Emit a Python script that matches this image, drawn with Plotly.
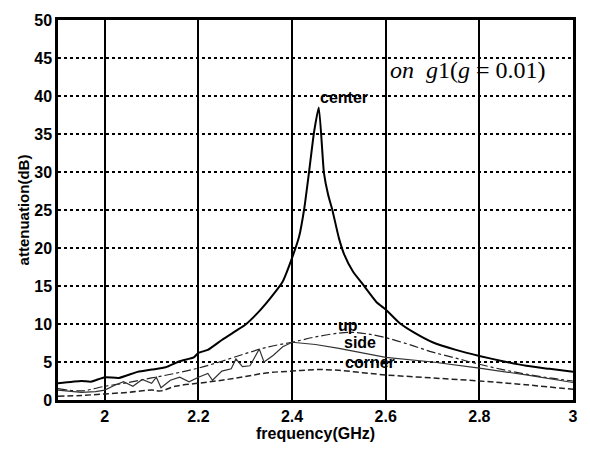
import plotly.graph_objects as go

# ---- data ----
center_f = [1.90, 1.95, 1.97, 2.00, 2.03, 2.07, 2.10, 2.13, 2.16, 2.19, 2.20, 2.22, 2.25, 2.28,
            2.30, 2.33, 2.36, 2.38, 2.40, 2.415, 2.426, 2.436, 2.447, 2.457, 2.468, 2.477,
            2.486, 2.50, 2.511, 2.53, 2.55, 2.58, 2.60, 2.63, 2.66, 2.70, 2.75, 2.80, 2.85,
            2.90, 2.95, 3.00]
center_v = [2.2, 2.5, 2.4, 3.0, 2.9, 3.7, 4.0, 4.3, 5.1, 5.6, 6.2, 6.6, 7.9, 9.1,
            9.9, 11.7, 13.9, 15.6, 18.7, 21.5, 25.2, 29.9, 35.3, 38.5, 29.9, 27.0,
            25.0, 21.3, 19.2, 16.9, 15.3, 12.9, 11.9, 10.1, 8.9, 7.6, 6.6, 5.8, 5.1,
            4.5, 4.1, 3.7]

up_f = [1.90, 1.95, 2.00, 2.05, 2.10, 2.15, 2.20, 2.25, 2.30, 2.35, 2.40, 2.45, 2.50, 2.53,
        2.56, 2.60, 2.65, 2.70, 2.75, 2.80, 2.85, 2.90, 2.95, 3.00]
up_v = [1.5, 1.2, 1.8, 2.3, 2.9, 3.5, 4.2, 5.1, 6.1, 7.0, 7.6, 8.3, 8.8, 8.9,
        8.7, 8.2, 7.3, 6.3, 5.5, 4.7, 4.0, 3.4, 2.9, 2.5]

side_f = [1.90, 1.95, 1.98, 2.00, 2.02, 2.04, 2.06, 2.08, 2.10, 2.11, 2.12, 2.14, 2.16, 2.18,
          2.20, 2.22, 2.23, 2.25, 2.27, 2.28, 2.294, 2.31, 2.33, 2.34, 2.36, 2.38, 2.40,
          2.45, 2.50, 2.55, 2.60, 2.70, 2.80, 2.90, 3.00]
side_v = [1.3, 1.0, 1.1, 1.3, 1.9, 2.4, 1.8, 2.7, 2.2, 3.0, 1.6, 2.6, 3.0, 2.4,
          3.0, 3.5, 2.6, 3.8, 4.1, 5.4, 4.4, 4.5, 6.7, 5.0, 5.9, 7.0, 7.6,
          7.3, 6.8, 6.2, 5.6, 5.0, 4.2, 3.3, 2.3]

corner_f = [1.90, 1.95, 2.00, 2.05, 2.10, 2.12, 2.15, 2.20, 2.25, 2.30, 2.35, 2.40, 2.45,
            2.50, 2.55, 2.60, 2.70, 2.80, 2.90, 3.00]
corner_v = [0.5, 0.6, 0.8, 1.0, 1.3, 1.2, 1.8, 2.2, 2.6, 3.1, 3.6, 3.8, 4.0,
            3.9, 3.6, 3.3, 2.9, 2.5, 2.0, 1.4]

x_ticks = [2, 2.2, 2.4, 2.6, 2.8, 3]
y_ticks = [0, 5, 10, 15, 20, 25, 30, 35, 40, 45, 50]

label_text = ["center", "up", "side", "corner"]
label_x = [2.511, 2.519, 2.545, 2.566]
label_y = [39.8, 9.8, 7.6, 5.0]

# ---- figure ----
fig = go.Figure()
fig.add_trace(go.Scatter(x=center_f, y=center_v, mode="lines",
                         line=dict(color="black", width=2, shape="spline", smoothing=0.5)))
fig.add_trace(go.Scatter(x=up_f, y=up_v, mode="lines",
                         line=dict(color="#222", width=1.2, dash="dashdot", shape="spline")))
fig.add_trace(go.Scatter(x=side_f, y=side_v, mode="lines",
                         line=dict(color="#333", width=1.2)))
fig.add_trace(go.Scatter(x=corner_f, y=corner_v, mode="lines",
                         line=dict(color="#222", width=1.5, dash="6px,3px", shape="spline")))

bold = dict(family="Liberation Sans, Arial, sans-serif", color="black", weight="bold")

for t, x, y in zip(label_text, label_x, label_y):
    fig.add_annotation(x=x, y=y, text=t, showarrow=False,
                       font=dict(size=16, **bold))

fig.add_annotation(xref="paper", yref="paper", x=0.640, y=0.8686, xanchor="left",
                   yanchor="middle",
                   text="<i>on</i>  <i>g</i>1(<i>g</i> = 0.01)", showarrow=False,
                   font=dict(family="Liberation Serif, Times New Roman, serif",
                             size=24, color="black"))

fig.update_xaxes(range=[1.9, 3], tickvals=x_ticks, ticktext=[str(v) for v in x_ticks],
                 showgrid=True, gridcolor="black", gridwidth=1.6, griddash="solid",
                 showline=True, linecolor="black", linewidth=2.5, mirror=True,
                 zeroline=False, ticks="", tickfont=dict(size=16, **bold),
                 title=dict(text="frequency(GHz)", font=dict(size=16, **bold), standoff=2))
fig.update_yaxes(range=[0, 50], tickvals=y_ticks,
                 showgrid=True, gridcolor="black", gridwidth=1.6, griddash="dot",
                 showline=True, linecolor="black", linewidth=2.5, mirror=True,
                 zeroline=False, ticks="", tickfont=dict(size=16, **bold),
                 title=dict(text="attenuation(dB)", font=dict(size=15, **bold), standoff=2))

fig.update_layout(width=590, height=450, margin=dict(l=58, r=15, t=14, b=48),
                  paper_bgcolor="white", plot_bgcolor="white", showlegend=False)

fig.write_html("out.html")
